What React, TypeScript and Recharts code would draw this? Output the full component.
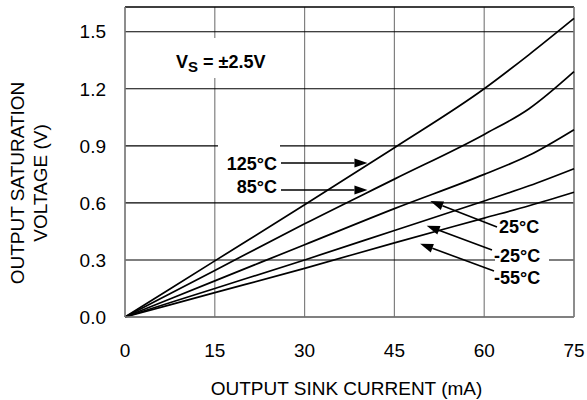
import React from 'react'
import { LineChart, Line, XAxis, YAxis, CartesianGrid, ReferenceLine, Customized } from 'recharts'

const currents = [0, 15, 30, 45, 60, 67.5, 75]
const t125 = [0, 0.295, 0.59, 0.89, 1.2, 1.38, 1.57]
const t85 = [0, 0.245, 0.49, 0.725, 0.96, 1.095, 1.29]
const t25 = [0, 0.19, 0.38, 0.57, 0.75, 0.85, 0.985]
const tm25 = [0, 0.15, 0.3, 0.455, 0.61, 0.69, 0.78]
const tm55 = [0, 0.128, 0.256, 0.39, 0.52, 0.585, 0.656]

const xTicks = [0, 15, 30, 45, 60, 75]
const yTicks = [0, 0.3, 0.6, 0.9, 1.2, 1.5]
const Y_MAX = 1.63

const series = [
  { key: 't125', values: t125 },
  { key: 't85', values: t85 },
  { key: 't25', values: t25 },
  { key: 'tm25', values: tm25 },
  { key: 'tm55', values: tm55 },
]

const data = currents.map((c, i) => {
  const row: Record<string, number> = { current: c }
  series.forEach(s => { row[s.key] = s.values[i] })
  return row
})

const W = 587
const H = 400
const margin = { top: 7, right: 13, left: 0, bottom: 0 }
const yAxisWidth = 125
const xAxisHeight = 83
const font = '"Liberation Sans", Arial, Helvetica, sans-serif'

// plot area, used only to place the annotation callouts
const plotLeft = margin.left + yAxisWidth
const plotRight = W - margin.right
const plotTop = margin.top
const plotBottom = H - xAxisHeight - margin.bottom
const px = (x: number) => plotLeft + (x / 75) * (plotRight - plotLeft)
const py = (y: number) => plotBottom - (y / Y_MAX) * (plotBottom - plotTop)

function Arrow({ x1, y1, x2, y2 }: { x1: number; y1: number; x2: number; y2: number }) {
  const ang = Math.atan2(y2 - y1, x2 - x1)
  const len = 13
  const half = 4.5
  const bx = x2 - len * Math.cos(ang)
  const by = y2 - len * Math.sin(ang)
  const nx = -Math.sin(ang) * half
  const ny = Math.cos(ang) * half
  return (
    <g>
      <line x1={x1} y1={y1} x2={bx} y2={by} stroke="#000" strokeWidth={1.6} />
      <polygon points={`${x2},${y2} ${bx + nx},${by + ny} ${bx - nx},${by - ny}`} fill="#000" />
    </g>
  )
}

const labelStyle = { fontFamily: font, fontSize: 18, fontWeight: 700, fill: '#000' }

function Annotations() {
  return (
    <g>
      {/* supply label */}
      <rect x={170} y={38} width={106} height={40} fill="#fff" />
      <text x={176} y={68} style={labelStyle}>
        V<tspan fontSize={15} dy={4}>S</tspan>
        <tspan dy={-4}> = ±2.5V</tspan>
      </text>

      <rect x={218} y={140} width={62} height={56} fill="#fff" />
      <text x={277} y={170} textAnchor="end" style={labelStyle}>125°C</text>
      <Arrow x1={281} y1={163} x2={px(40.5)} y2={163} />
      <text x={277} y={193} textAnchor="end" style={labelStyle}>85°C</text>
      <Arrow x1={281} y1={190} x2={px(40.5)} y2={190} />

      <rect x={495} y={248} width={54} height={18} fill="#fff" />
      <text x={499} y={233} style={labelStyle}>25°C</text>
      <Arrow x1={497} y1={227} x2={px(51)} y2={py(0.61)} />
      <text x={494} y={262} style={labelStyle}>-25°C</text>
      <Arrow x1={492} y1={250} x2={px(50.4)} y2={py(0.48)} />
      <text x={494} y={284} style={labelStyle}>-55°C</text>
      <Arrow x1={494} y1={271} x2={px(49.3)} y2={py(0.385)} />

      {/* y axis title */}
      <g transform="translate(17, 183) rotate(-90)">
        <text x={0} y={0} textAnchor="middle" dominantBaseline="central" fontFamily={font} fontSize={19} fill="#000">
          OUTPUT SATURATION
        </text>
      </g>
      <g transform="translate(40, 183) rotate(-90)">
        <text x={0} y={0} textAnchor="middle" dominantBaseline="central" fontFamily={font} fontSize={19} fill="#000">
          VOLTAGE (V)
        </text>
      </g>
      {/* x axis title */}
      <text x={(plotLeft + plotRight) / 2 - 3} y={395} textAnchor="middle" fontFamily={font} fontSize={19} fill="#000">
        OUTPUT SINK CURRENT (mA)
      </text>
    </g>
  )
}

export default function App() {
  return (
    <div style={{ position: 'absolute', left: 0, top: 0, width: W, height: H, background: '#fff' }}>
      <LineChart width={W} height={H} data={data} margin={margin}>
        <CartesianGrid horizontal={false} vertical stroke="#808080" strokeWidth={1.2} />
        <CartesianGrid horizontal vertical={false} stroke="#000" strokeWidth={1.1} />
        <XAxis
          dataKey="current"
          type="number"
          domain={[0, 75]}
          ticks={xTicks}
          height={xAxisHeight}
          tickLine={false}
          tickSize={0}
          tickMargin={27}
          axisLine={{ stroke: '#808080', strokeWidth: 1.5 }}
          tick={{ fill: '#000', fontSize: 19, fontFamily: font }}
        />
        <YAxis
          type="number"
          domain={[0, Y_MAX]}
          ticks={yTicks}
          width={yAxisWidth}
          tickLine={false}
          tickSize={0}
          tickMargin={19}
          tickFormatter={(v: number) => v.toFixed(1)}
          axisLine={{ stroke: '#808080', strokeWidth: 1.5 }}
          tick={{ fill: '#000', fontSize: 19, fontFamily: font }}
        />
        <ReferenceLine y={Y_MAX} stroke="#000" strokeWidth={1.2} />
        <ReferenceLine x={75} stroke="#808080" strokeWidth={1.5} />
        <Customized component={Annotations} />
        {series.map(s => (
          <Line
            key={s.key}
            dataKey={s.key}
            type="monotone"
            stroke="#000"
            strokeWidth={1.7}
            dot={false}
            isAnimationActive={false}
          />
        ))}
      </LineChart>
    </div>
  )
}
